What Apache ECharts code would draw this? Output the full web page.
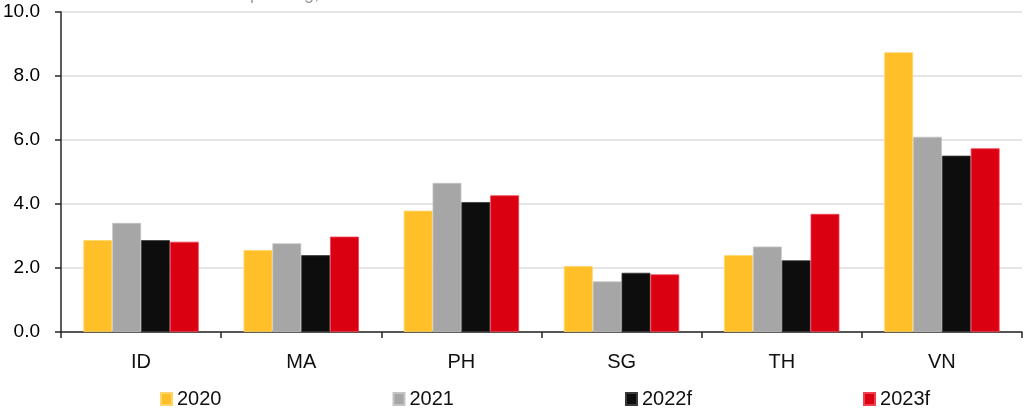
<!DOCTYPE html>
<html>
<head>
<meta charset="utf-8">
<script src="https://cdn.jsdelivr.net/npm/echarts@6/dist/echarts.min.js"></script>
<style>html,body{margin:0;padding:0;background:#fff}#c{width:1036px;height:418px}</style>
</head>
<body>
<div id="c"></div>
<script>
var titleText = 'Public investment spending, % of GDP';
var categories = ['ID', 'MA', 'PH', 'SG', 'TH', 'VN'];
var seriesNames = ['2020', '2021', '2022f', '2023f'];
var s2020 = [2.87, 2.56, 3.79, 2.06, 2.40, 8.74];
var s2021 = [3.41, 2.77, 4.66, 1.58, 2.67, 6.10];
var s2022f = [2.87, 2.40, 4.06, 1.85, 2.24, 5.51];
var s2023f = [2.82, 2.98, 4.27, 1.80, 3.69, 5.74];
var yTicks = [0, 2, 4, 6, 8, 10];

var colors = ['#FFBF29', '#A6A6A6', '#0D0D0D', '#DB0011'];
var borders = ['#FFD66A', '#C4C4C4', '#3A3A3A', '#F04050'];
var font = '"Liberation Sans", Arial, sans-serif';
var data = [s2020, s2021, s2022f, s2023f];

var chart = echarts.init(document.getElementById('c'), null, {renderer: 'canvas'});
chart.setOption({
  animation: false,
  color: colors,
  title: {
    text: titleText, left: 90, top: -20,
    textStyle: {fontFamily: font, fontSize: 18, fontWeight: 'normal', color: '#9a9a9a'}
  },
  grid: {left: 56, right: 14, top: 12, bottom: 86, containLabel: false},
  legend: {
    data: seriesNames, left: 155, top: 384, itemWidth: 11, itemHeight: 12, itemGap: 171,
    icon: 'rect',
    textStyle: {fontFamily: font, fontSize: 20, color: '#111', padding: [0, 0, 0, 0]}
  },
  xAxis: {
    type: 'category', data: categories,
    axisLine: {lineStyle: {color: '#262626', width: 1.5}},
    axisTick: {show: true, length: 6, lineStyle: {color: '#262626', width: 1.5}},
    axisLabel: {margin: 20, fontFamily: font, fontSize: 20, color: '#111'}
  },
  yAxis: {
    type: 'value', min: yTicks[0], max: yTicks[yTicks.length - 1], interval: 2,
    axisLine: {show: true, lineStyle: {color: '#262626', width: 1.5}},
    axisTick: {show: true, length: 6, lineStyle: {color: '#262626', width: 1.5}},
    splitLine: {lineStyle: {color: '#DCDCDC', width: 1.5}},
    axisLabel: {margin: 21, fontFamily: font, fontSize: 19, color: '#000',
      formatter: function (v) { return v.toFixed(1); }}
  },
  series: seriesNames.map(function (n, i) {
    return {
      name: n, type: 'bar', data: data[i], barGap: '0%', barCategoryGap: '28%',
      itemStyle: {color: colors[i], borderColor: borders[i], borderWidth: 0.8}
    };
  })
});
</script>
</body>
</html>
